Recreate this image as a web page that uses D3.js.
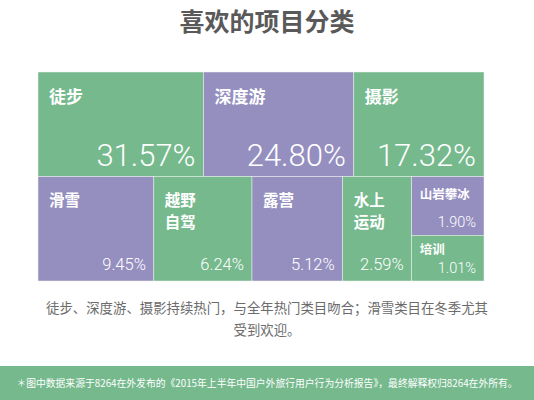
<!DOCTYPE html>
<html>
<head>
<meta charset="utf-8">
<script src="https://cdn.jsdelivr.net/npm/d3@7"></script>
<style>
    body { margin: 0; background: #fff; }
    svg { display: block; }
</style>
</head>
<body>
<div id="chart"></div>
<script>
const categories = ["徒步", "深度游", "摄影", "滑雪", "越野自驾", "露营", "水上运动", "山岩攀冰", "培训"];
const shares = [31.57, 24.80, 17.32, 9.45, 6.24, 5.12, 2.59, 1.90, 1.01];
const labelLines = [["徒步"], ["深度游"], ["摄影"], ["滑雪"], ["越野", "自驾"], ["露营"], ["水上", "运动"], ["山岩攀冰"], ["培训"]];
// rows of the tile grid, an inner array is one column stacked vertically
const rows = [
    ["徒步", "深度游", "摄影"],
    ["滑雪", "越野自驾", "露营", "水上运动", ["山岩攀冰", "培训"]]
];
const title = "喜欢的项目分类";
const caption = ["徒步、深度游、摄影持续热门，与全年热门类目吻合；滑雪类目在冬季尤其", "受到欢迎。"];
const footnote = "＊图中数据来源于8264在外发布的《2015年上半年中国户外旅行用户行为分析报告》，最终解释权归8264在外所有。";

const width = 534, height = 400,
    grid = {left: 38, right: 484, top: 72, bottom: 281};

const green = "#75b98d", purple = "#958fbf";
const cjk = "'Noto Sans CJK SC', 'Noto Sans', sans-serif",
    num = "Roboto, 'Liberation Sans', sans-serif";

const share = name => shares[categories.indexOf(name)];
const lines = name => labelLines[categories.indexOf(name)];

function layout() {
    // tile sizes follow a damped scale of the shares, like the original infographic
    const w = d3.scalePow().exponent(0.4).domain([0, 100]).range([0, 100]);
    const rowY = d3.scaleBand()
        .domain(d3.range(rows.length))
        .range([grid.top, grid.bottom]);

    const cells = [];
    rows.forEach((row, ri) => {
        const colW = row.map(c => w(Array.isArray(c) ? d3.sum(c, share) : share(c)));
        const x = d3.scaleLinear().domain([0, d3.sum(colW)]).range([grid.left, grid.right]);
        let acc = 0;
        row.forEach((c, ci) => {
            const x0 = x(acc), x1 = x(acc + colW[ci]);
            acc += colW[ci];
            const y0 = rowY(ri), y1 = rowY(ri) + rowY.bandwidth();
            if (Array.isArray(c)) {
                const hW = c.map(n => w(share(n)));
                const y = d3.scaleLinear().domain([0, d3.sum(hW)]).range([y0, y1]);
                let a = 0;
                c.forEach((n, k) => {
                    cells.push({name: n, x0, x1, y0: y(a), y1: y(a + hW[k]), small: true});
                    a += hW[k];
                });
            } else {
                cells.push({name: c, x0, x1, y0, y1, small: false, top: ri === 0});
            }
        });
    });
    return cells;
}

function show(selHolder) {
    const svg = d3.select(selHolder)
        .append("svg")
        .attr("width", width)
        .attr("height", height);

    svg.append("text")
        .attr("x", width / 2)
        .attr("y", 31)
        .attr("text-anchor", "middle")
        .attr("font-family", cjk)
        .attr("font-weight", "bold")
        .attr("font-size", 25)
        .attr("fill", "#595959")
        .text(title);

    const color = d3.scaleOrdinal()
        .domain(categories)
        .range([green, purple]);

    const cells = layout();

    const g = svg.append("g")
        .selectAll("g")
        .data(cells)
        .enter().append("g");

    g.append("rect")
        .attr("x", d => d.x0)
        .attr("y", d => d.y0)
        .attr("width", d => d.x1 - d.x0)
        .attr("height", d => d.y1 - d.y0)
        .attr("fill", d => color(d.name))
        .attr("stroke", "#eef3ef")
        .attr("stroke-width", 0.5);

    // name, one or two lines
    g.each(function (d) {
        const fs = d.small ? 12.5 : (d.top ? 17 : 15.5),
            first = d.small ? (d.name === "培训" ? 19 : 22) : (d.top ? 31 : 29);
        const t = d3.select(this).append("text")
            .attr("font-family", cjk)
            .attr("font-weight", "bold")
            .attr("font-size", fs)
            .attr("fill", "#fff");
        lines(d.name).forEach((l, i) => {
            t.append("tspan")
                .attr("x", d.x0 + (d.small ? 8 : 11))
                .attr("y", d.y0 + first + i * 22.6)
                .text(l);
        });
    });

    g.append("text")
        .attr("x", d => d.x1 - 8)
        .attr("y", d => d.y1 - (d.small ? 8 : 11))
        .attr("text-anchor", "end")
        .attr("font-family", num)
        .attr("font-weight", 300)
        .attr("font-size", d => d.top ? 31 : (d.small ? 14.5 : 16.5))
        .attr("fill", "#fff")
        .text(d => share(d.name).toFixed(2) + "%");

    svg.append("g")
        .selectAll("text")
        .data(caption)
        .enter().append("text")
        .attr("x", width / 2)
        .attr("y", (d, i) => 313 + i * 22)
        .attr("text-anchor", "middle")
        .attr("font-family", cjk)
        .attr("font-size", 13.4)
        .attr("fill", "#6b6b6b")
        .text(d => d);

    svg.append("rect")
        .attr("x", 0)
        .attr("y", 366)
        .attr("width", width)
        .attr("height", height - 366)
        .attr("fill", green);

    svg.append("text")
        .attr("x", width / 2)
        .attr("y", 386.5)
        .attr("text-anchor", "middle")
        .attr("font-family", cjk)
        .attr("font-size", 9.8)
        .attr("fill", "#fff")
        .text(footnote);
}

show("#chart");
</script>
</body>
</html>
